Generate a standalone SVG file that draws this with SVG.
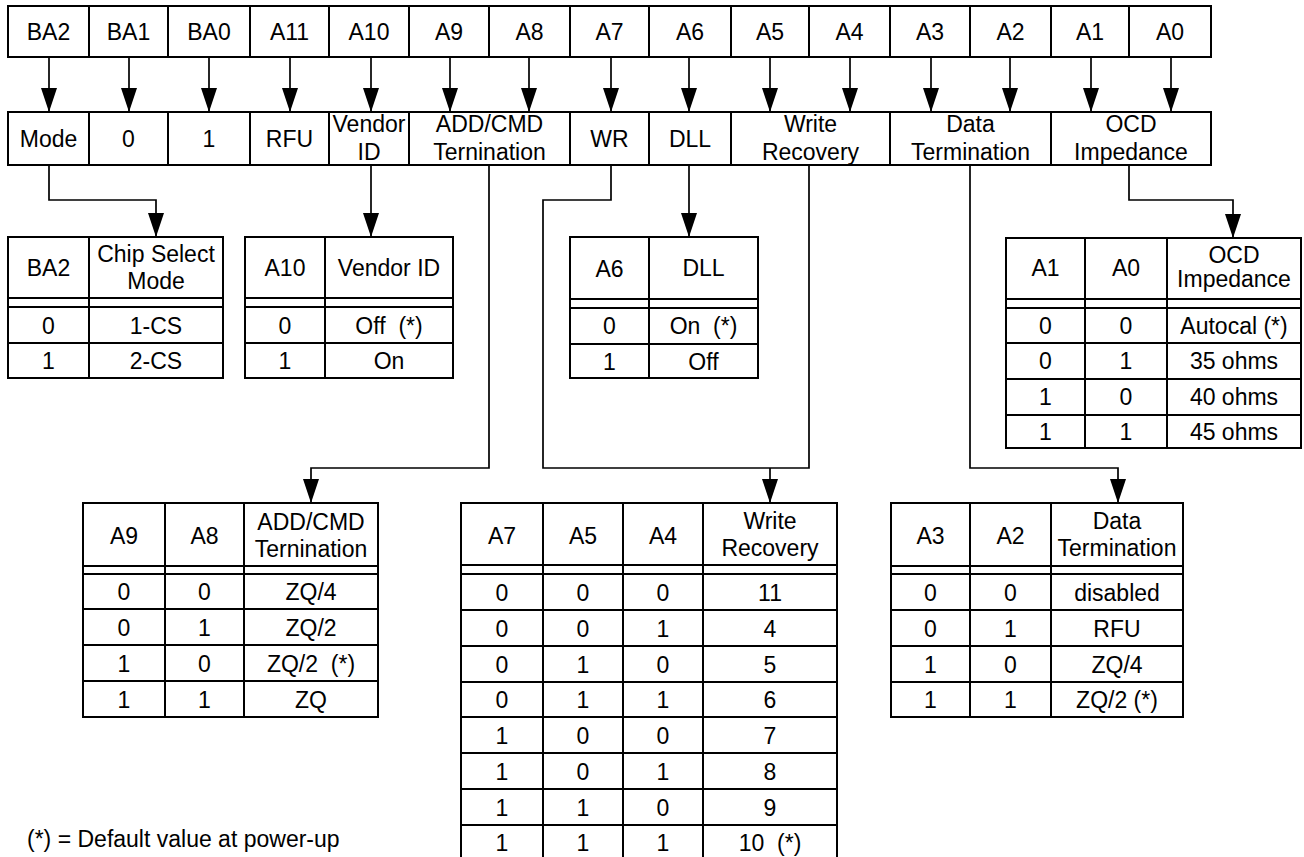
<svg xmlns="http://www.w3.org/2000/svg" width="1304" height="857" viewBox="0 0 1304 857">
<style>
.b{fill:#fff;stroke:#000;stroke-width:2}
.g{fill:none;stroke:#000;stroke-width:2}
.c{fill:none;stroke:#000;stroke-width:1.7}
.a{marker-end:url(#ah)}
text{font-family:"Liberation Sans",Arial,Helvetica,sans-serif;font-size:23px;fill:#000;text-anchor:middle;white-space:pre}
.l{text-anchor:start}
</style>
<defs>
<marker id="ah" viewBox="0 0 24 16" refX="24" refY="8" markerWidth="24" markerHeight="16" orient="auto" markerUnits="userSpaceOnUse">
<path d="M0,0 L24,8 L0,16 z" fill="#000"/>
</marker>
</defs>
<rect width="1304" height="857" fill="#fff"/>

<g id="connectors">
<path class="c a" d="M49,57 V112"/>
<path class="c a" d="M129,57 V112"/>
<path class="c a" d="M209,57 V112"/>
<path class="c a" d="M290,57 V112"/>
<path class="c a" d="M371,57 V112"/>
<path class="c a" d="M450,57 V112"/>
<path class="c a" d="M529,57 V112"/>
<path class="c a" d="M611,57 V112"/>
<path class="c a" d="M689,57 V112"/>
<path class="c a" d="M770,57 V112"/>
<path class="c a" d="M850,57 V112"/>
<path class="c a" d="M931,57 V112"/>
<path class="c a" d="M1010,57 V112"/>
<path class="c a" d="M1091,57 V112"/>
<path class="c a" d="M1171,57 V112"/>
<path class="c a" d="M49,165 V200 H156 V237"/>
<path class="c a" d="M371,165 V237"/>
<path class="c a" d="M489,165 V468 H311 V503"/>
<path class="c" d="M611,165 V200 H543 V468 H809 V165"/>
<path class="c a" d="M770,468 V503"/>
<path class="c a" d="M689,165 V237"/>
<path class="c a" d="M970,165 V468 H1118 V503"/>
<path class="c a" d="M1129,165 V200 H1233 V238"/>
</g>

<g id="bits">
<g id="bit-BA2"><rect class="b" x="8" y="6" width="81" height="51"/><text x="48.5" y="39.5">BA2</text></g>
<g id="bit-BA1"><rect class="b" x="89" y="6" width="79" height="51"/><text x="128.5" y="39.5">BA1</text></g>
<g id="bit-BA0"><rect class="b" x="168" y="6" width="82" height="51"/><text x="209" y="39.5">BA0</text></g>
<g id="bit-A11"><rect class="b" x="250" y="6" width="79" height="51"/><text x="289.5" y="39.5">A11</text></g>
<g id="bit-A10"><rect class="b" x="329" y="6" width="80" height="51"/><text x="369" y="39.5">A10</text></g>
<g id="bit-A9"><rect class="b" x="409" y="6" width="80" height="51"/><text x="449" y="39.5">A9</text></g>
<g id="bit-A8"><rect class="b" x="489" y="6" width="81" height="51"/><text x="529.5" y="39.5">A8</text></g>
<g id="bit-A7"><rect class="b" x="570" y="6" width="79" height="51"/><text x="609.5" y="39.5">A7</text></g>
<g id="bit-A6"><rect class="b" x="649" y="6" width="82" height="51"/><text x="690" y="39.5">A6</text></g>
<g id="bit-A5"><rect class="b" x="731" y="6" width="78" height="51"/><text x="770" y="39.5">A5</text></g>
<g id="bit-A4"><rect class="b" x="809" y="6" width="81" height="51"/><text x="849.5" y="39.5">A4</text></g>
<g id="bit-A3"><rect class="b" x="890" y="6" width="80" height="51"/><text x="930" y="39.5">A3</text></g>
<g id="bit-A2"><rect class="b" x="970" y="6" width="81" height="51"/><text x="1010.5" y="39.5">A2</text></g>
<g id="bit-A1"><rect class="b" x="1051" y="6" width="78" height="51"/><text x="1090" y="39.5">A1</text></g>
<g id="bit-A0"><rect class="b" x="1129" y="6" width="82" height="51"/><text x="1170" y="39.5">A0</text></g>
</g>

<g id="fields">
<g id="f-mode"><rect class="b" x="8" y="112" width="81" height="53"/><text x="48.5" y="146.5">Mode</text></g>
<g id="f-0"><rect class="b" x="89" y="112" width="79" height="53"/><text x="128.5" y="146.5">0</text></g>
<g id="f-1"><rect class="b" x="168" y="112" width="82" height="53"/><text x="209" y="146.5">1</text></g>
<g id="f-rfu"><rect class="b" x="250" y="112" width="79" height="53"/><text x="289.5" y="146.5">RFU</text></g>
<g id="f-vendor"><rect class="b" x="329" y="112" width="80" height="53"/><text x="369" y="132">Vendor</text><text x="369" y="159.5">ID</text></g>
<g id="f-addcmd"><rect class="b" x="409" y="112" width="161" height="53"/><text x="489.5" y="132">ADD/CMD</text><text x="489.5" y="159.5">Ternination</text></g>
<g id="f-wr"><rect class="b" x="570" y="112" width="79" height="53"/><text x="609.5" y="146.5">WR</text></g>
<g id="f-dll"><rect class="b" x="649" y="112" width="82" height="53"/><text x="690" y="146.5">DLL</text></g>
<g id="f-wrec"><rect class="b" x="731" y="112" width="159" height="53"/><text x="810.5" y="132">Write</text><text x="810.5" y="159.5">Recovery</text></g>
<g id="f-dterm"><rect class="b" x="890" y="112" width="161" height="53"/><text x="970.5" y="132">Data</text><text x="970.5" y="159.5">Termination</text></g>
<g id="f-ocd"><rect class="b" x="1051" y="112" width="160" height="53"/><text x="1131" y="132">OCD</text><text x="1131" y="159.5">Impedance</text></g>
</g>

<g id="tbl-chipselect">
<rect class="b" x="8" y="237" width="215" height="141"/>
<path class="g" d="M89,237 V378 M8,298 H223 M8,307 H223 M8,343 H223"/>
<text x="48.5" y="276">BA2</text>
<text x="156" y="261.5">Chip Select</text><text x="156" y="289">Mode</text>
<text x="48.5" y="333.5">0</text><text x="156" y="333.5">1-CS</text>
<text x="48.5" y="369">1</text><text x="156" y="369">2-CS</text>
</g>

<g id="tbl-vendor">
<rect class="b" x="245" y="237" width="208" height="141"/>
<path class="g" d="M325,237 V378 M245,298 H453 M245,307 H453 M245,343 H453"/>
<text x="285" y="276">A10</text>
<text x="389" y="276">Vendor ID</text>
<text x="285" y="333.5">0</text><text x="389" y="333.5">Off  (*)</text>
<text x="285" y="369">1</text><text x="389" y="369">On</text>
</g>

<g id="tbl-dll">
<rect class="b" x="570" y="237" width="188" height="141"/>
<path class="g" d="M649,237 V378 M570,299 H758 M570,308 H758 M570,344 H758"/>
<text x="609.5" y="277">A6</text>
<text x="703.5" y="276">DLL</text>
<text x="609.5" y="334">0</text><text x="703.5" y="334">On  (*)</text>
<text x="609.5" y="369.5">1</text><text x="703.5" y="369.5">Off</text>
</g>

<g id="tbl-ocd">
<rect class="b" x="1006" y="238" width="295" height="210"/>
<path class="g" d="M1085,238 V448 M1167,238 V448 M1006,299 H1301 M1006,308 H1301 M1006,343 H1301 M1006,379 H1301 M1006,415 H1301"/>
<text x="1045.5" y="276">A1</text><text x="1126" y="276">A0</text>
<text x="1234" y="262.5">OCD</text><text x="1234" y="287">Impedance</text>
<text x="1045.5" y="333.5">0</text><text x="1126" y="333.5">0</text><text x="1234" y="333.5">Autocal (*)</text>
<text x="1045.5" y="369">0</text><text x="1126" y="369">1</text><text x="1234" y="369">35 ohms</text>
<text x="1045.5" y="405">1</text><text x="1126" y="405">0</text><text x="1234" y="405">40 ohms</text>
<text x="1045.5" y="440">1</text><text x="1126" y="440">1</text><text x="1234" y="440">45 ohms</text>
</g>

<g id="tbl-addcmd">
<rect class="b" x="83" y="503" width="295" height="214"/>
<path class="g" d="M165,503 V717 M244,503 V717 M83,566 H378 M83,574 H378 M83,609 H378 M83,645 H378 M83,681 H378"/>
<text x="124" y="544">A9</text><text x="204.5" y="544">A8</text>
<text x="311" y="529.5">ADD/CMD</text><text x="311" y="557">Ternination</text>
<text x="124" y="600">0</text><text x="204.5" y="600">0</text><text x="311" y="600">ZQ/4</text>
<text x="124" y="635.5">0</text><text x="204.5" y="635.5">1</text><text x="311" y="635.5">ZQ/2</text>
<text x="124" y="671.5">1</text><text x="204.5" y="671.5">0</text><text x="311" y="671.5">ZQ/2  (*)</text>
<text x="124" y="707.5">1</text><text x="204.5" y="707.5">1</text><text x="311" y="707.5">ZQ</text>
</g>

<g id="tbl-writerecovery">
<rect class="b" x="461" y="503" width="376" height="358"/>
<path class="g" d="M543,503 V861 M623,503 V861 M703,503 V861 M461,565 H837 M461,574 H837 M461,610 H837 M461,646 H837 M461,682 H837 M461,717 H837 M461,753 H837 M461,789 H837 M461,825 H837"/>
<text x="502" y="544">A7</text><text x="583" y="544">A5</text><text x="663" y="544">A4</text>
<text x="770" y="528.5">Write</text><text x="770" y="556">Recovery</text>
<text x="502" y="600.5">0</text><text x="583" y="600.5">0</text><text x="663" y="600.5">0</text><text x="770" y="600.5">11</text>
<text x="502" y="636.5">0</text><text x="583" y="636.5">0</text><text x="663" y="636.5">1</text><text x="770" y="636.5">4</text>
<text x="502" y="672.5">0</text><text x="583" y="672.5">1</text><text x="663" y="672.5">0</text><text x="770" y="672.5">5</text>
<text x="502" y="708">0</text><text x="583" y="708">1</text><text x="663" y="708">1</text><text x="770" y="708">6</text>
<text x="502" y="743.5">1</text><text x="583" y="743.5">0</text><text x="663" y="743.5">0</text><text x="770" y="743.5">7</text>
<text x="502" y="779.5">1</text><text x="583" y="779.5">0</text><text x="663" y="779.5">1</text><text x="770" y="779.5">8</text>
<text x="502" y="815.5">1</text><text x="583" y="815.5">1</text><text x="663" y="815.5">0</text><text x="770" y="815.5">9</text>
<text x="502" y="851">1</text><text x="583" y="851">1</text><text x="663" y="851">1</text><text x="770" y="851">10  (*)</text>
</g>

<g id="tbl-dataterm">
<rect class="b" x="891" y="503" width="292" height="214"/>
<path class="g" d="M970,503 V717 M1051,503 V717 M891,566 H1183 M891,574 H1183 M891,610 H1183 M891,646 H1183 M891,682 H1183"/>
<text x="930.5" y="544">A3</text><text x="1010.5" y="544">A2</text>
<text x="1117" y="528.5">Data</text><text x="1117" y="556">Termination</text>
<text x="930.5" y="600.5">0</text><text x="1010.5" y="600.5">0</text><text x="1117" y="600.5">disabled</text>
<text x="930.5" y="636.5">0</text><text x="1010.5" y="636.5">1</text><text x="1117" y="636.5">RFU</text>
<text x="930.5" y="672.5">1</text><text x="1010.5" y="672.5">0</text><text x="1117" y="672.5">ZQ/4</text>
<text x="930.5" y="708">1</text><text x="1010.5" y="708">1</text><text x="1117" y="708">ZQ/2 (*)</text>
</g>

<g id="footnote">
<text class="l" x="27" y="847">(*) = Default value at power-up</text>
</g>
</svg>
